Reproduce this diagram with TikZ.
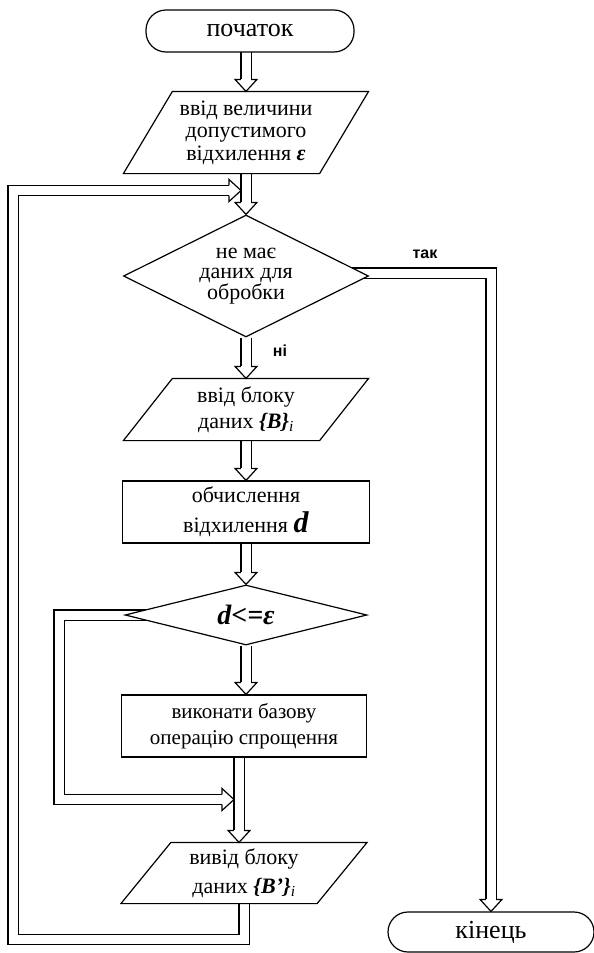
\documentclass[tikz,border=0pt]{standalone}
\usepackage{fontspec}
\setmainfont{Liberation Serif}
\newfontfamily\labelfont{Liberation Sans}
\usetikzlibrary{shapes.geometric}
\usetikzlibrary{backgrounds}

\tikzset{
  dbl/.style={double, double distance=9pt, line width=1.2pt, line join=miter},
  frame/.style={draw, fill=white, line width=1.2pt},
  term/.style={draw, fill=white, rounded corners=20pt, inner sep=0pt, font=\fontsize{26}{28}\selectfont},
  iobox/.style={inner sep=0pt, minimum width=195pt, align=center, font=\fontsize{22}{24}\selectfont},
  process/.style={draw, fill=white, inner sep=0pt, align=center, font=\fontsize{21}{26}\selectfont},
  decision/.style={diamond, draw, fill=white, inner sep=0pt, align=center, font=\fontsize{22}{20}\selectfont},
  branch/.style={font=\labelfont\bfseries\fontsize{16}{18}\selectfont}
}

% open head of a double arrow, tip at #1, turned by #2
\newcommand{\blockhead}[2]{%
  \begin{scope}[shift={(#1)}, rotate=#2]
    \draw (-5.1,-12) -- (-11,-12) -- (0,0) -- (11,-12) -- (5.1,-12);
  \end{scope}}

\begin{document}
\begin{tikzpicture}[x=1pt, y=-1pt, line width=1.2pt]
\useasboundingbox (0,0) rectangle (594,953);

\node[term, minimum width=208pt, minimum height=42pt] (start) at (250,31) {початок};
\node[iobox, minimum height=81pt, font=\fontsize{22}{22.5}\selectfont] (in1) at (246,132.5)
  {ввід величини\\допустимого\\відхилення \textbf{\textit{ε}}};
\node[decision, minimum width=245pt, minimum height=122pt, aspect=2] (d1) at (246,276)
  {не має\\даних для\\обробки};
\node[iobox, minimum height=61pt, font=\fontsize{22}{26}\selectfont] (in2) at (246,409.5)
  {ввід блоку\\даних \textbf{\textit{\{B\}}}\textsubscript{\textit{i}}};
\node[process, minimum width=247pt, minimum height=62pt, font=\fontsize{22}{30}\selectfont] (c1) at (246,512)
  {обчислення\\відхилення {\fontsize{30}{30}\selectfont\textbf{\textit{d}}}};
\node[decision, minimum width=242pt, minimum height=60pt, aspect=4, font=\fontsize{28}{30}\selectfont] (d2) at (246,615)
  {\textbf{\textit{d<=ε}}};
\node[process, minimum width=245pt, minimum height=62pt] (c2) at (244,726)
  {виконати базову\\операцію спрощення};
\node[iobox, minimum height=60pt, font=\fontsize{22}{29}\selectfont] (in3) at (244,873)
  {вивід блоку\\даних \textbf{\textit{\{B'\}}}\textsubscript{\textit{i}}};
\node[term, minimum width=206pt, minimum height=40pt] (stop) at (491,932) {кінець};

\node[branch] (yes) at (425,254) {так};
\node[branch] (no) at (280,351) {ні};

\coordinate (fb1) at (241,190.5);
\coordinate (fb2) at (234,799.5);
\coordinate (h6) at (d2.south |- c2.north);
\coordinate (h7) at ([xshift=-5pt]in3.north);

\begin{scope}[on background layer]
% main column
\draw[dbl] (in1 |- start) -- ([yshift=12pt]in1.north);
\draw[dbl] (in1) -- ([yshift=12pt]d1.north);
\draw[dbl] (d1) -- ([yshift=12pt]in2.north);
\draw[dbl] (in2) -- ([yshift=12pt]c1.north);
\draw[dbl] (c1) -- ([yshift=12pt]d2.north);
\draw[dbl] (d2) -- ([yshift=12pt]h6);
\draw[dbl] ([xshift=-5pt]c2.center) -- ([yshift=12pt]h7);
% branches and loops
\draw[dbl] ([yshift=3pt]d1.center) -| ([yshift=12pt]stop.north);
\draw[dbl] (d2.center) -| (59,799.5) -- ([xshift=-12pt]fb2);
\draw[dbl] (in3.south) -- ++(0,36) -| (13,190.5) -- ([xshift=-12pt]fb1);
% parallelograms
\foreach \n/\s in {in1/24.5, in2/24.5, in3/25} {
  \draw[frame] ([xshift=\s pt]\n.north west) -- ([xshift=\s pt]\n.north east)
    -- ([xshift=-\s pt]\n.south east) -- ([xshift=-\s pt]\n.south west) -- cycle;
}
\end{scope}

\foreach \p/\r in {in1.north/0, d1.north/0, in2.north/0, c1.north/0, d2.north/0,
  h6/0, h7/0, stop.north/0, fb1/90, fb2/90} {
  \blockhead{\p}{\r}
}
\end{tikzpicture}
\end{document}
